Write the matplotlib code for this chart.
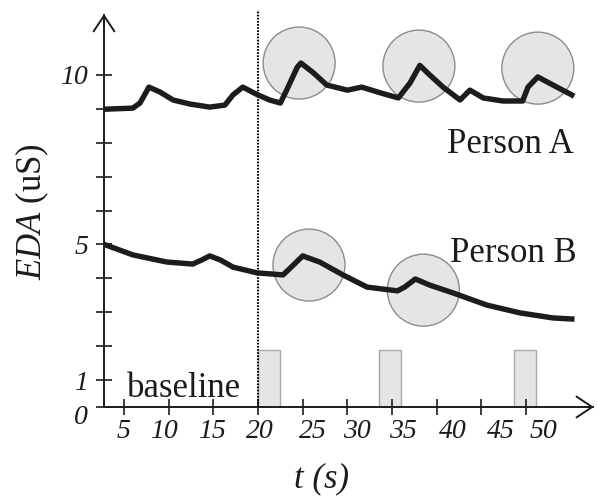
import matplotlib.pyplot as plt
from matplotlib.patches import Ellipse
from matplotlib.transforms import ScaledTranslation

plt.rcParams['font.family'] = ['Liberation Serif', 'DejaVu Serif']
plt.rcParams['mathtext.fontset'] = 'custom'
plt.rcParams['mathtext.rm'] = 'Liberation Serif'
plt.rcParams['mathtext.it'] = 'Liberation Serif:italic'

# EDA traces
t_a = [3.1, 6.0, 6.8, 7.8, 9.0, 10.5, 12.4, 14.6, 16.3, 17.2, 18.3, 19.9, 21.3, 22.5,
       23.2, 24.4, 24.8, 26.2, 27.7, 30.0, 31.6, 33.7, 35.7, 37.0, 38.1, 39.2, 40.7,
       42.6, 43.7, 45.2, 47.4, 49.6, 50.2, 51.3, 53.0, 55.1]
eda_a = [8.99, 9.02, 9.17, 9.64, 9.50, 9.26, 9.14, 9.05, 9.11, 9.41, 9.64, 9.42, 9.26, 9.17,
         9.55, 10.23, 10.35, 10.06, 9.70, 9.55, 9.64, 9.47, 9.32, 9.76, 10.28, 10.00, 9.64,
         9.26, 9.55, 9.32, 9.23, 9.23, 9.64, 9.94, 9.70, 9.41]

t_b = [3.0, 6.0, 9.8, 12.7, 13.7, 14.6, 15.8, 17.2, 19.9, 22.8, 23.6, 25.0, 26.9, 29.5,
       32.2, 35.6, 36.4, 37.6, 39.2, 41.8, 45.6, 49.3, 53.0, 55.1]
eda_b = [4.98, 4.69, 4.48, 4.42, 4.54, 4.66, 4.54, 4.33, 4.16, 4.10, 4.30, 4.66, 4.48, 4.10,
         3.74, 3.63, 3.74, 3.98, 3.80, 3.57, 3.21, 2.98, 2.83, 2.80]

# highlighted responses (circle centres)
resp_a_t = [24.6, 38.0, 51.3]
resp_a_y = [10.35, 10.26, 10.20]
resp_b_t = [25.7, 38.5]
resp_b_y = [4.39, 3.65]

# stimulus blocks
stim_start = [20.0, 33.5, 48.6]
stim_width = 2.5
stim_top = 1.88

x_ticks = [5, 10, 15, 20, 25, 30, 35, 40, 45, 50]
y_ticks = [1, 2, 3, 4, 5, 6, 7, 8, 9, 10]
y_tick_labels = ['1', '', '', '', '5', '', '', '', '', '10']

# the x labels in the original drift a little off their ticks (pixels)
x_label_shift = [0, -5, -1, 2, 10, 10, 11, 16, 19, 17]

W, H = 597, 499
fig = plt.figure(figsize=(W / 100, H / 100), dpi=100)

# axes box in pixels (origin at crossing of the arrows)
x0_px, x1_px = 104, 593
y0_px, y1_px = 407, 15
ax = fig.add_axes([x0_px / W, (H - y0_px) / H, (x1_px - x0_px) / W, (y0_px - y1_px) / H])

px_per_t = 8.94
px_per_y = 33.9
t_min = 20 - (258 - x0_px) / px_per_t
t_max = 20 + (x1_px - 258) / px_per_t
y_min = 1 - (y0_px - 380) / px_per_y
y_max = 1 + (380 - y1_px) / px_per_y
ax.set_xlim(t_min, t_max)
ax.set_ylim(y_min, y_max)

ink = '#1c1c1c'
fill = '#e4e5e7'

# circles (true circles on screen)
diam = 72
for tc, yc in list(zip(resp_a_t, resp_a_y)) + list(zip(resp_b_t, resp_b_y)):
    ax.add_patch(Ellipse((tc, yc), diam / px_per_t, diam / px_per_y,
                         facecolor=fill, edgecolor='#8c8c8c', lw=1.0, zorder=1))

ax.bar(stim_start, stim_top - y_min, width=stim_width, bottom=y_min, align='edge',
       color=fill, edgecolor='#a8a8a8', lw=1.0, zorder=1)

ax.plot(t_a, eda_a, color=ink, lw=3.9, solid_joinstyle='round', zorder=3)
ax.plot(t_b, eda_b, color=ink, lw=3.9, solid_joinstyle='round', zorder=3)

ax.plot([20, 20], [y_min, 11.9], color='black', lw=1.5, ls=(0, (0.8, 0.7)),
        clip_on=False, zorder=2)

# axes with arrow heads
for s in ['top', 'right']:
    ax.spines[s].set_visible(False)
for s in ['left', 'bottom']:
    ax.spines[s].set_linewidth(1.4)
    ax.spines[s].set_color(ink)
ax.annotate('', xy=(t_max + 0.1, y_min), xytext=(t_max - 1, y_min),
            arrowprops=dict(arrowstyle='->,head_length=0.45,head_width=0.3', lw=1.4,
                            color=ink, mutation_scale=25, shrinkA=0, shrinkB=0),
            annotation_clip=False)
ax.annotate('', xy=(t_min, y_max + 0.03), xytext=(t_min, y_max - 0.3),
            arrowprops=dict(arrowstyle='->,head_length=0.45,head_width=0.3', lw=1.4,
                            color=ink, mutation_scale=25, shrinkA=0, shrinkB=0),
            annotation_clip=False)

ax.set_xticks(x_ticks)
ax.set_xticklabels([str(v) for v in x_ticks], fontstyle='italic', fontsize=20)
ax.set_yticks([y_min] + y_ticks)
ax.set_yticklabels(['0'] + y_tick_labels, fontstyle='italic', fontsize=20)
ax.tick_params(direction='inout', length=11, width=1.2, color=ink, labelcolor=ink)
ax.tick_params(axis='x', pad=3)
ax.tick_params(axis='y', pad=6)

for lab, dx in zip(ax.get_xticklabels(), x_label_shift):
    lab.set_transform(lab.get_transform() + ScaledTranslation(dx / 100, 0, fig.dpi_scale_trans))
zero_lab = ax.get_yticklabels()[0]
zero_lab.set_transform(zero_lab.get_transform() + ScaledTranslation(0, -7 / 100, fig.dpi_scale_trans))

ax.text(55.3, 7.7, 'Person A', fontsize=25, ha='right', va='baseline', color=ink)
ax.text(55.7, 4.48, 'Person B', fontsize=25, ha='right', va='baseline', color=ink)
ax.text(5.35, 0.5, 'baseline', fontsize=25, ha='left', va='baseline', color=ink)

fig.text(32 / W, 1 - 212 / H, r'$\mathit{EDA}$ (uS)', rotation=90, fontsize=25,
         ha='center', va='center', color=ink)
fig.text(322 / W, 1 - 479 / H, 't (s)', fontstyle='italic', fontsize=25,
         ha='center', va='center', color=ink)

fig.savefig('out.png', dpi=100)
